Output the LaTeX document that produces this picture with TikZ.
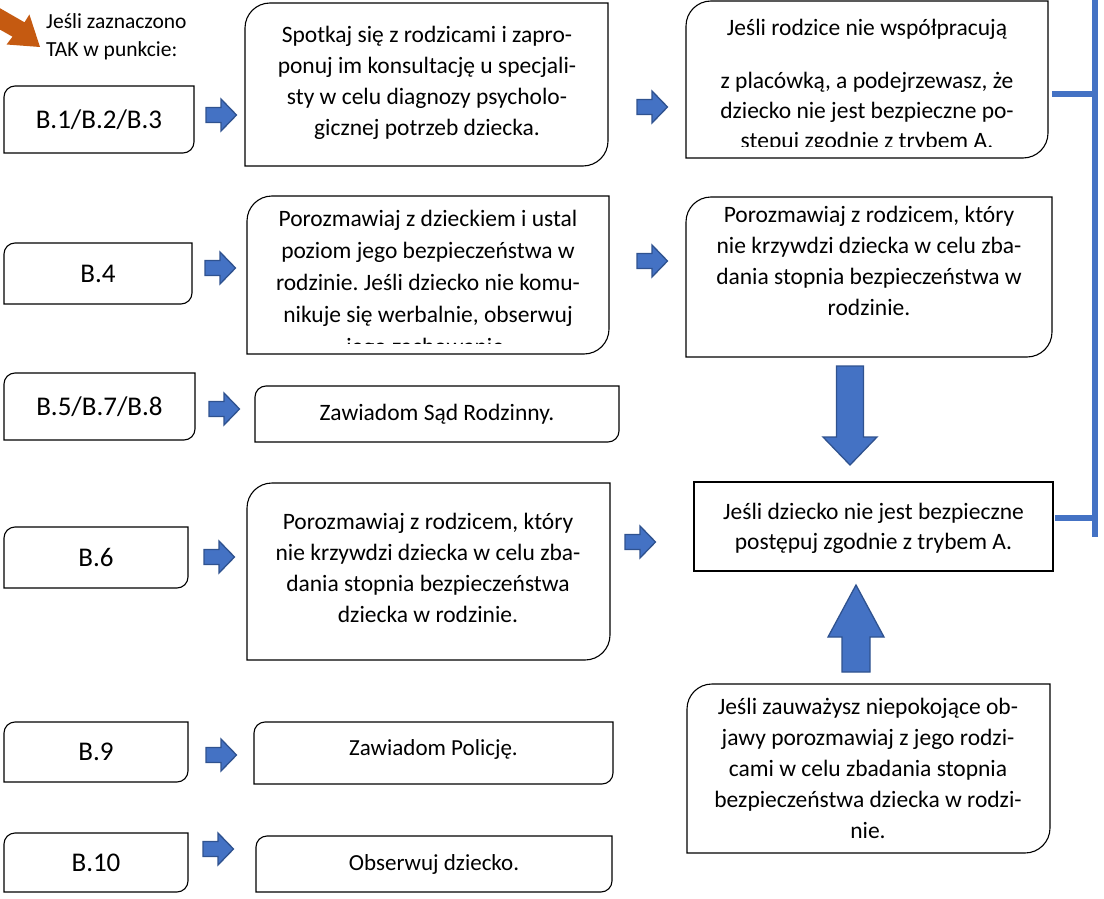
\documentclass[tikz,border=0pt]{standalone}
\usepackage{fontspec}
\setmainfont{Carlito}
\usetikzlibrary{calc}
\definecolor{arrblue}{HTML}{4472C4}
\definecolor{arredge}{HTML}{2F528F}
\definecolor{orng}{HTML}{C55A11}
\frenchspacing
\newcommand\diagoutline[2]{%
  \draw[outl] ([xshift=#2]#1.north west) -- (#1.north east) -- ([yshift=#2]#1.south east)
    arc[start angle=0,end angle=-90,radius=#2] -- (#1.south west) -- ([yshift=-#2]#1.north west)
    arc[start angle=180,end angle=90,radius=#2] -- cycle;}
\tikzset{
  frame/.style={inner sep=0pt, outer sep=0pt},
  outl/.style={draw=black, line width=1.1pt},
  para/.style={inner sep=0pt, align=center, anchor=north, font=\fontsize{23.5}{31}\selectfont},
  lab/.style={font=\fontsize{27}{32}\selectfont},
  small/.style={font=\fontsize{23}{26}\selectfont},
  blk/.style={draw=arredge, fill=arrblue, line width=1.3pt, line join=miter},
  brk/.style={draw=arrblue, line width=6.5pt},
  rblk/.pic={\path[blk] (-15,-7.5) -- (0,-7.5) -- (0,-16) -- (15.5,0) -- (0,16) -- (0,7.5) -- (-15,7.5) -- cycle;},
}
\begin{document}
\begin{tikzpicture}[x=1pt,y=-1pt]
\useasboundingbox (0,0) rectangle (1104,899);
\clip (0,0) rectangle (1104,899);
% orange pointer
\fill[orng] (-30,-9) -- (24.5,22.3) -- (29.4,14.5) -- (40,47) -- (6.6,44.5) -- (12.5,36.7) -- (-40,7) -- cycle;
\node[anchor=north west, align=left, inner sep=0pt, font=\fontsize{21.5}{28}\selectfont] (head) at (46,13) {Jeśli zaznaczono\\TAK w punkcie:};
% left column boxes
\node[frame, lab, minimum width=190pt, minimum height=67pt] (b1) at (99,119.5) {B.1/B.2/B.3};
\node[frame, lab, minimum width=188pt, minimum height=61pt] (b4) at (98,273.5) {B.4};
\node[frame, lab, minimum width=191pt, minimum height=67pt] (b5) at (99.5,406.5) {B.5/B.7/B.8};
\node[frame, lab, minimum width=184pt, minimum height=61pt] (b6) at (96,557.5) {B.6};
\node[frame, lab, minimum width=184pt, minimum height=60pt] (b9) at (96,752) {B.9};
\node[frame, lab, minimum width=184pt, minimum height=59pt] (b10) at (96,862.5) {B.10};
\foreach \n in {b1,b4,b5,b6,b9,b10} {\diagoutline{\n}{11pt}}
% middle column
\node[frame, minimum width=363pt, minimum height=163pt] (s1) at (426.5,84.5) {};
\node[frame, minimum width=362pt, minimum height=158pt] (s2) at (428,275) {};
\node[frame, small, font=\fontsize{23.5}{26}\selectfont, minimum width=364pt, minimum height=56pt] (z1) at (437,414) {Zawiadom Sąd Rodzinny.};
\node[frame, minimum width=363pt, minimum height=177pt] (s3) at (428.5,571.5) {};
\node[frame, minimum width=359pt, minimum height=62pt] (pol) at (433.5,753) {};
\node[small, inner sep=0pt] (tpol) at (433.5,749) {Zawiadom Policję.};
\node[frame, small, minimum width=356pt, minimum height=56pt] (obs) at (434,864) {Obserwuj dziecko.};
\foreach \n in {s1,s2,s3} {\diagoutline{\n}{25pt}}
\foreach \n in {z1,pol,obs} {\diagoutline{\n}{11pt}}
% right column
\node[frame, minimum width=362pt, minimum height=157pt] (r1) at (867,79.5) {};
\node[frame, minimum width=366pt, minimum height=160pt] (r2) at (869,277) {};
\node[frame, draw, line width=1.1pt, minimum width=359pt, minimum height=89pt] (jd) at (873.5,526.5) {};
\node[frame, minimum width=363pt, minimum height=169pt] (r3) at (868.5,768.5) {};
\foreach \n in {r1,r2,r3} {\diagoutline{\n}{25pt}}
% texts
\node[para] (ts1) at (427,26) {Spotkaj się z rodzicami i zapro-\\ponuj im konsultację u specjali-\\sty w celu diagnozy psycholo-\\gicznej potrzeb dziecka.};
\begin{scope}
  \clip (686,1) rectangle (1048,146.5);
  \node[para, font=\fontsize{23.5}{30}\selectfont] (tr1) at (867,19) {Jeśli rodzice nie współpracują\\[23pt]z placówką, a podejrzewasz, że\\dziecko nie jest bezpieczne po-\\stępuj zgodnie z trybem A.};
\end{scope}
\begin{scope}
  \clip (247,196) rectangle (609,343);
  \node[para, font=\fontsize{23.5}{32}\selectfont] (ts2) at (428,210) {Porozmawiaj z dzieckiem i ustal\\poziom jego bezpieczeństwa w\\rodzinie. Jeśli dziecko nie komu-\\nikuje się werbalnie, obserwuj\\jego zachowanie.};
\end{scope}
\node[para] (tr2) at (869,206) {Porozmawiaj z rodzicem, który\\nie krzywdzi dziecka w celu zba-\\dania stopnia bezpieczeństwa w\\rodzinie.};
\node[para, font=\fontsize{23.5}{30}\selectfont] (tjd) at (873.5,503) {Jeśli dziecko nie jest bezpieczne\\postępuj zgodnie z trybem A.};
\node[para] (ts3) at (428,513) {Porozmawiaj z rodzicem, który\\nie krzywdzi dziecka w celu zba-\\dania stopnia bezpieczeństwa\\dziecka w rodzinie.};
\node[para] (tr3) at (868,698) {Jeśli zauważysz niepokojące ob-\\jawy porozmawiaj z jego rodzi-\\cami w celu zbadania stopnia\\bezpieczeństwa dziecka w rodzi-\\nie.};
% small block arrows
\pic at (221,115) {rblk};
\pic at (652,107) {rblk};
\pic at (220,268) {rblk};
\pic at (652,261) {rblk};
\pic at (224,409) {rblk};
\pic at (219,557) {rblk};
\pic at (640,542) {rblk};
\pic at (221,755) {rblk};
\pic at (218,849) {rblk};
% big vertical arrows
\path[blk] (836.5,366) -- (863.5,366) -- (863.5,437) -- (877,437) -- (850,465) -- (823,437) -- (836.5,437) -- cycle;
\path[blk] (842,672) -- (870,672) -- (870,637) -- (884,637) -- (856,585) -- (828,637) -- (842,637) -- cycle;
% bracket
\coordinate (bt) at (1095,-5);
\coordinate (bb) at (1095,537);
\draw[brk] (bt) -- (bb);
\draw[brk] ([xshift=4pt,yshift=-14.5pt]r1.east) -- ([yshift=-14.5pt]r1.east -| bb);
\draw[brk] ([xshift=2pt,yshift=8.5pt]jd.east) -- ([yshift=8.5pt]jd.east -| bb);
\end{tikzpicture}
\end{document}
